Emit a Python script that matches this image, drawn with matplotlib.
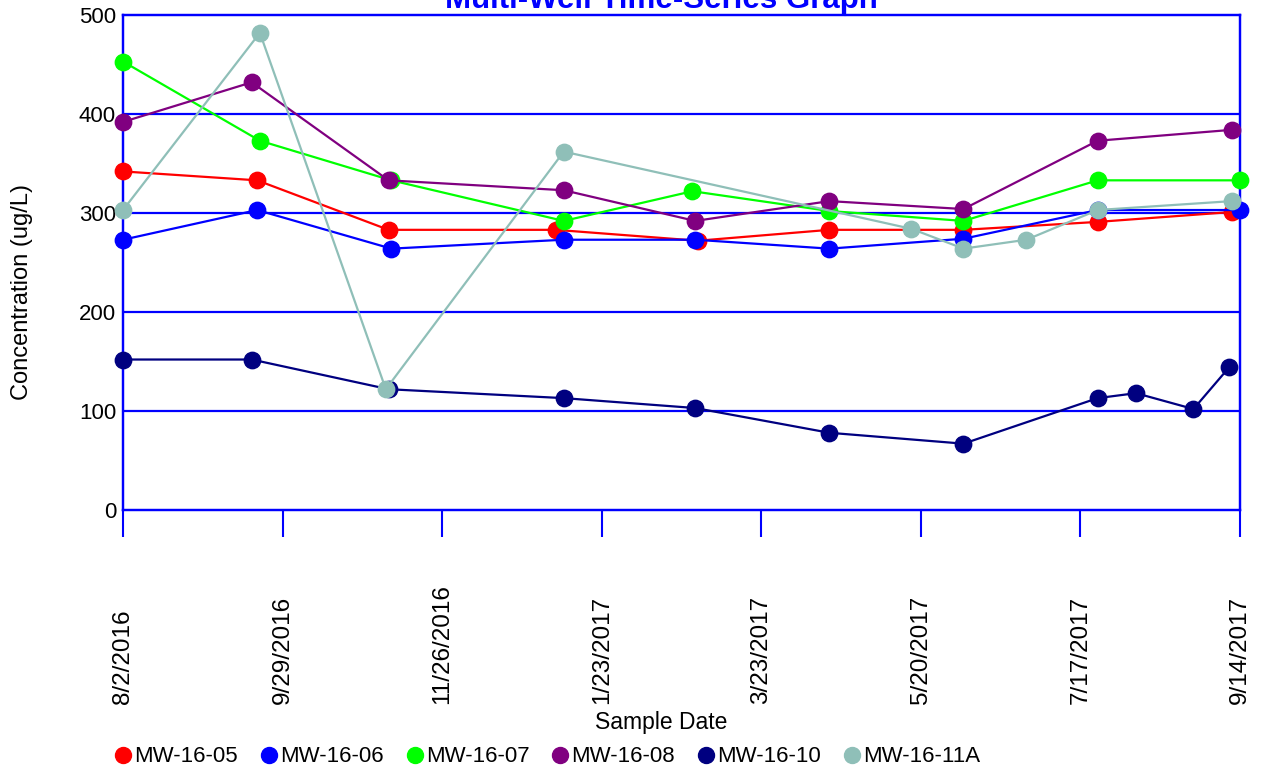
import numpy as np
import matplotlib
matplotlib.use("Agg")
import matplotlib.pyplot as plt
import matplotlib.dates as mdates
from matplotlib.lines import Line2D

plt.rcParams['font.family'] = ['Liberation Sans', 'DejaVu Sans']

# ---- data ----
wells = ["MW-16-05", "MW-16-06", "MW-16-07", "MW-16-08", "MW-16-10", "MW-16-11A"]
colors = ["#ff0000", "#0000ff", "#00ff00", "#800080", "#000080", "#8fbfb8"]

dates_05 = ["2016-08-02", "2016-09-20", "2016-11-07", "2017-01-07", "2017-02-28",
            "2017-04-17", "2017-06-05", "2017-07-24", "2017-09-11"]
conc_05 = [342, 333, 283, 283, 272, 283, 283, 291, 301]

dates_06 = ["2016-08-02", "2016-09-20", "2016-11-08", "2017-01-10", "2017-02-27",
            "2017-04-17", "2017-06-05", "2017-07-24", "2017-09-14"]
conc_06 = [273, 303, 264, 273, 273, 264, 274, 303, 303]

dates_07 = ["2016-08-02", "2016-09-21", "2016-11-08", "2017-01-10", "2017-02-26",
            "2017-04-17", "2017-06-05", "2017-07-24", "2017-09-14"]
conc_07 = [453, 373, 333, 292, 322, 302, 292, 333, 333]

dates_08 = ["2016-08-02", "2016-09-18", "2016-11-07", "2017-01-10", "2017-02-27",
            "2017-04-17", "2017-06-05", "2017-07-24", "2017-09-11"]
conc_08 = [392, 432, 333, 323, 292, 312, 304, 373, 384]

dates_10 = ["2016-08-02", "2016-09-18", "2016-11-07", "2017-01-10", "2017-02-27",
            "2017-04-17", "2017-06-05", "2017-07-24", "2017-08-07", "2017-08-28",
            "2017-09-10"]
conc_10 = [152, 152, 122, 113, 103, 78, 67, 113, 118, 102, 144]

dates_11a = ["2016-08-02", "2016-09-21", "2016-11-06", "2017-01-10", "2017-05-17",
             "2017-06-05", "2017-06-28", "2017-07-24", "2017-09-11"]
conc_11a = [303, 482, 122, 362, 284, 264, 273, 303, 312]

all_dates = [dates_05, dates_06, dates_07, dates_08, dates_10, dates_11a]
all_conc = [conc_05, conc_06, conc_07, conc_08, conc_10, conc_11a]

tick_labels = ["8/2/2016", "9/29/2016", "11/26/2016", "1/23/2017",
               "3/23/2017", "5/20/2017", "7/17/2017", "9/14/2017"]
x_start, x_end = "2016-08-02", "2017-09-14"
y_grid = [100, 200, 300, 400]

W, H = 1263, 776
fig = plt.figure(figsize=(W / 100, H / 100), dpi=100)
ax = fig.add_axes([123 / W, 1 - 510 / H, 1117 / W, 495 / H])

blue = "#0000ff"
for y in y_grid:
    ax.axhline(y, color=blue, lw=1.6, zorder=1)

for name, col, d, c in zip(wells, colors, all_dates, all_conc):
    x = mdates.date2num(np.array(d, dtype="datetime64[D]"))
    ax.plot(x, c, color=col, lw=1.6, marker="o", ms=11.8, mec=col,
            clip_on=False, zorder=3, label=name)

x0 = mdates.date2num(np.datetime64(x_start))
x1 = mdates.date2num(np.datetime64(x_end))
ax.set_xlim(x0, x1)
ax.set_ylim(0, 500)

ticks = np.linspace(x0, x1, len(tick_labels))
ax.set_xticks(ticks)
ax.set_xticklabels([])
ax.tick_params(axis="x", direction="out", length=19.5, width=1.5, color=blue)
ax.set_yticks([0, 100, 200, 300, 400, 500])
ax.tick_params(axis="y", length=0, pad=5, labelsize=16)
for s in ax.spines.values():
    s.set_color(blue)
    s.set_linewidth(1.75)

# rotated date labels, bottoms aligned
xfig = matplotlib.transforms.blended_transform_factory(ax.transData, fig.transFigure)
for t, lab in zip(ticks, tick_labels):
    ax.text(t, 1 - 704 / H, lab, rotation=90, ha="center", va="bottom",
            fontsize=17.5, transform=xfig)

fig.text(661 / W, 1 - 722 / H, "Sample Date", ha="center", va="center", fontsize=16.5)
fig.text(22 / W, 1 - 292 / H, "Concentration (ug/L)", ha="center", va="center",
         rotation=90, fontsize=17)

# title, clipped at the top edge as in the original
fig.text(661 / W, 1 - 8 / H, "Multi-Well Time-Series Graph", ha="center",
         va="baseline", fontsize=22.5, fontweight="bold", color=blue)
fig.add_artist(Line2D([845 / W, 845 / W], [1, 1 - 15 / H], color=blue, lw=1.5))

handles = [Line2D([], [], ls="none", marker="o", ms=11.5, color=c) for c in colors]
fig.legend(handles, wells, loc="center left", bbox_to_anchor=(114 / W, 1 - 757 / H),
           ncol=6, frameon=False, fontsize=16, handlelength=0.8, handletextpad=0.1,
           columnspacing=1.0, borderpad=0, borderaxespad=0)

fig.savefig("out.png", dpi=100)
